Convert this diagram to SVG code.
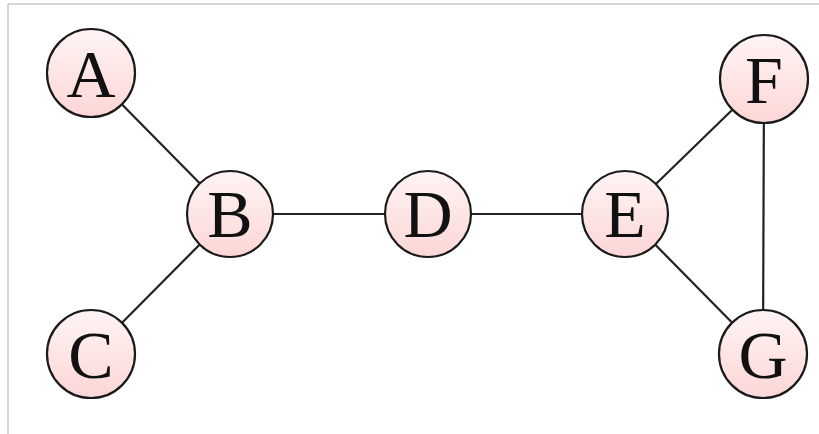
<svg xmlns="http://www.w3.org/2000/svg" width="819" height="434" viewBox="0 0 819 434">
<defs>
<linearGradient id="g" x1="0" y1="0" x2="0" y2="1">
<stop offset="0" stop-color="#fff4f4"/>
<stop offset="1" stop-color="#fcd6d6"/>
</linearGradient>
</defs>
<style>
.n{fill:url(#g);stroke:#1a1a1a;stroke-width:2.2}
.t{font-family:"Liberation Serif","DejaVu Serif",serif;font-size:68px;fill:#111;text-anchor:middle}
.e{stroke:#222;stroke-width:2.2}
.b{stroke:#c8c8c8;stroke-width:1.5}
</style>
<rect width="819" height="434" fill="#fff"/>
<line class="b" x1="8" y1="4" x2="819" y2="4"/>
<line class="b" x1="8" y1="4" x2="8" y2="434"/>
<g id="edges">
<line class="e" x1="91" y1="73" x2="230" y2="214"/>
<line class="e" x1="91" y1="354" x2="230" y2="214"/>
<line class="e" x1="230" y1="214" x2="428" y2="214"/>
<line class="e" x1="428" y1="214" x2="625" y2="214"/>
<line class="e" x1="625" y1="214" x2="764" y2="79"/>
<line class="e" x1="625" y1="214" x2="763" y2="354"/>
<line class="e" x1="764" y1="79" x2="763" y2="354"/>
</g>
<g id="A"><circle class="n" cx="91" cy="73" r="44"/><text class="t" x="91" y="97">A</text></g>
<g id="B"><circle class="n" cx="230" cy="214" r="43"/><text class="t" x="230" y="237">B</text></g>
<g id="C"><circle class="n" cx="91" cy="354" r="44"/><text class="t" x="91" y="378">C</text></g>
<g id="D"><circle class="n" cx="428" cy="214" r="43"/><text class="t" x="428" y="237">D</text></g>
<g id="E"><circle class="n" cx="625" cy="214" r="43"/><text class="t" x="625" y="237">E</text></g>
<g id="F"><circle class="n" cx="764" cy="79" r="44"/><text class="t" x="764" y="103">F</text></g>
<g id="G"><circle class="n" cx="763" cy="354" r="44"/><text class="t" x="763" y="378">G</text></g>
</svg>
